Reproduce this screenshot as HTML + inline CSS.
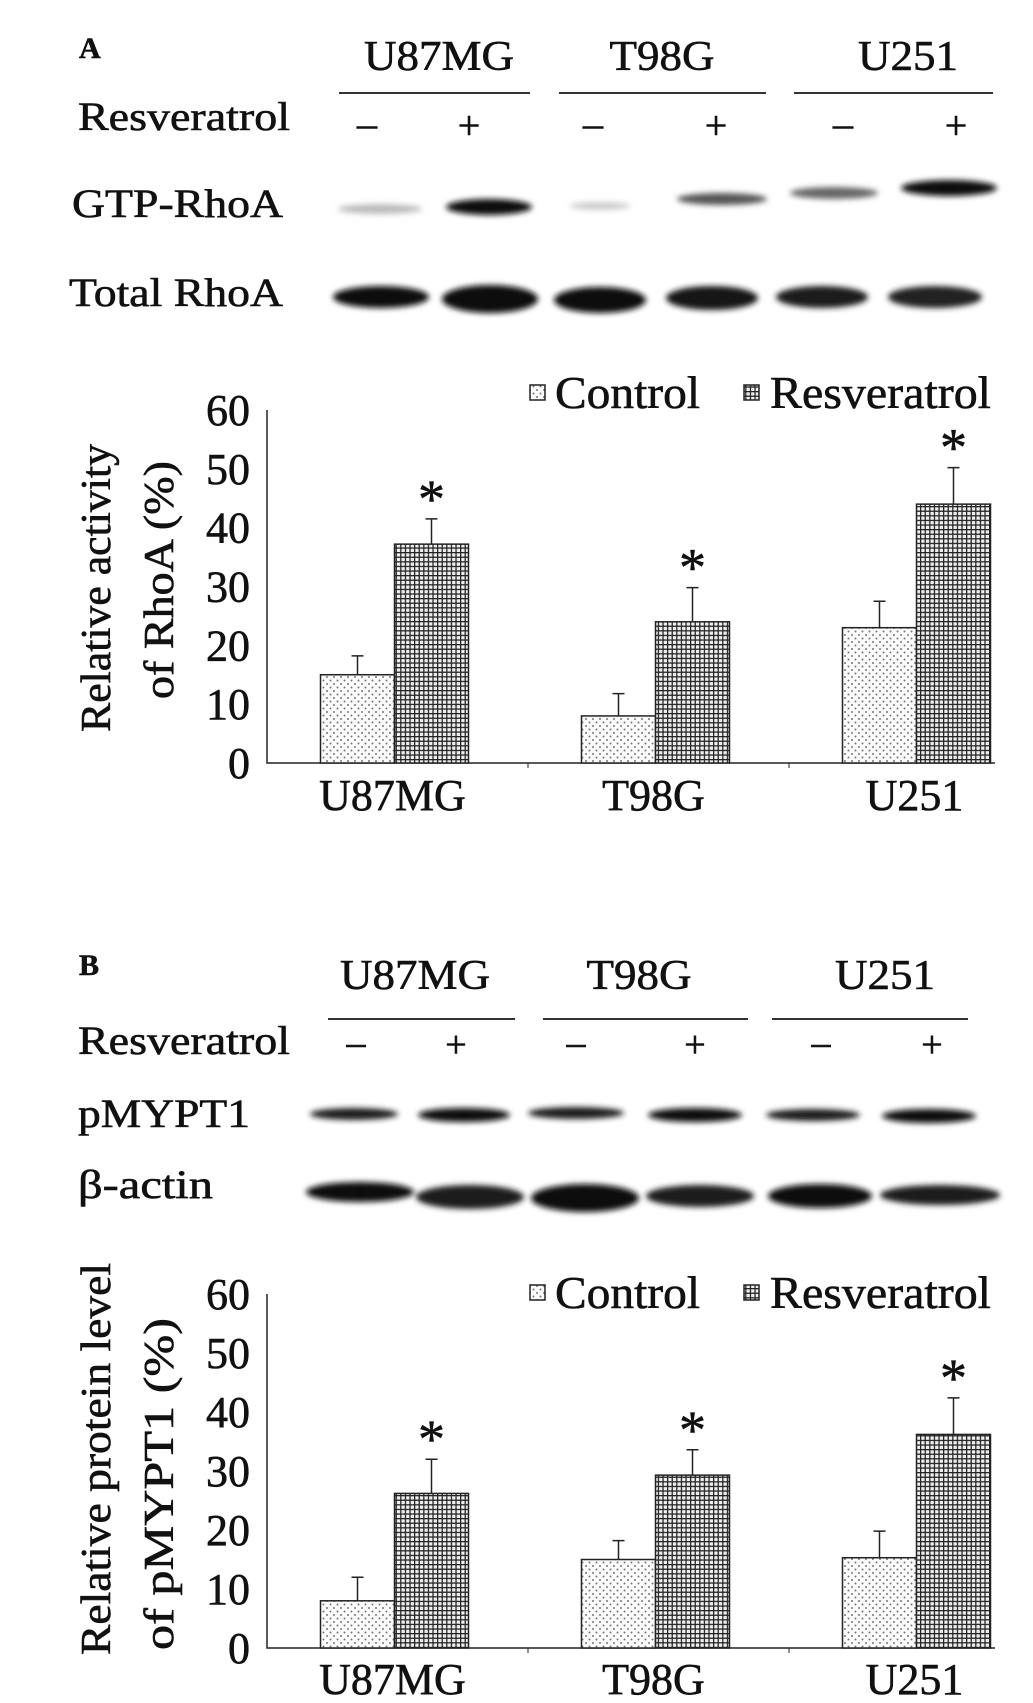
<!DOCTYPE html>
<html><head><meta charset="utf-8"><style>
html,body{margin:0;padding:0;background:#fff;}
svg{display:block;}
text{font-family:"Liberation Serif",serif;fill:#111;stroke:#111;stroke-width:0.6;}
</style></head><body>
<svg id="fig" width="1033" height="1703" viewBox="0 0 1033 1703">
<defs>
<pattern id="dots" width="7" height="7" patternUnits="userSpaceOnUse">
<rect width="7" height="7" fill="#fbfbfb"/>
<circle cx="1.5" cy="1.5" r="1" fill="#777"/><circle cx="5" cy="5" r="1" fill="#777"/>
</pattern>
<pattern id="grid" width="4.6" height="4.6" patternUnits="userSpaceOnUse">
<rect width="4.6" height="4.6" fill="#eee"/>
<path d="M0 0.6H4.6M0.6 0V4.6" stroke="#222" stroke-width="1.3"/>
</pattern>
<filter id="blur" x="-20%" y="-100%" width="140%" height="300%"><feGaussianBlur stdDeviation="3"/></filter>
</defs>

<text x="79" y="58" font-size="30" font-weight="bold">A</text>
<text x="439" y="70" font-size="42" text-anchor="middle" textLength="150" lengthAdjust="spacingAndGlyphs">U87MG</text>
<text x="662" y="70" font-size="42" text-anchor="middle" textLength="105" lengthAdjust="spacingAndGlyphs">T98G</text>
<text x="908" y="70" font-size="42" text-anchor="middle" textLength="100" lengthAdjust="spacingAndGlyphs">U251</text>
<g stroke="#333" stroke-width="2">
<line x1="339" y1="93" x2="530" y2="93"/><line x1="559" y1="93" x2="766" y2="93"/><line x1="794" y1="93" x2="993" y2="93"/></g>
<text x="78" y="130" font-size="40" textLength="212" lengthAdjust="spacingAndGlyphs">Resveratrol</text>
<g font-size="40" text-anchor="middle">
<text x="367" y="137">–</text><text x="469" y="139">+</text><text x="593" y="137">–</text><text x="716" y="139">+</text><text x="843" y="137">–</text><text x="956" y="139">+</text></g>
<text x="72" y="217" font-size="40" textLength="211" lengthAdjust="spacingAndGlyphs">GTP-RhoA</text>
<text x="69" y="306" font-size="40" textLength="214" lengthAdjust="spacingAndGlyphs">Total RhoA</text>
<g filter="url(#blur)">
<ellipse cx="380" cy="209" rx="42" ry="5" fill="#bbb"/>
<ellipse cx="489" cy="207" rx="43" ry="8" fill="#111"/>
<ellipse cx="600" cy="206" rx="30" ry="4" fill="#ccc"/>
<ellipse cx="722" cy="199" rx="45" ry="6" fill="#555"/>
<ellipse cx="834" cy="193" rx="44" ry="6" fill="#666"/>
<ellipse cx="949" cy="188" rx="48" ry="8" fill="#111"/>
</g>
<g filter="url(#blur)">
<ellipse cx="381" cy="297" rx="48" ry="11" fill="#111"/>
<ellipse cx="490" cy="299" rx="48" ry="14" fill="#0a0a0a"/>
<ellipse cx="600" cy="300" rx="46" ry="13" fill="#111"/>
<ellipse cx="712" cy="298" rx="46" ry="12" fill="#151515"/>
<ellipse cx="822" cy="297" rx="46" ry="11" fill="#1a1a1a"/>
<ellipse cx="935" cy="297" rx="47" ry="11" fill="#222"/>
</g>

<text x="79" y="975" font-size="30" font-weight="bold">B</text>
<text x="415" y="989" font-size="42" text-anchor="middle" textLength="150" lengthAdjust="spacingAndGlyphs">U87MG</text>
<text x="639" y="989" font-size="42" text-anchor="middle" textLength="105" lengthAdjust="spacingAndGlyphs">T98G</text>
<text x="885" y="989" font-size="42" text-anchor="middle" textLength="100" lengthAdjust="spacingAndGlyphs">U251</text>
<g stroke="#333" stroke-width="2">
<line x1="328" y1="1019" x2="515" y2="1019"/><line x1="543" y1="1019" x2="748" y2="1019"/><line x1="772" y1="1019" x2="968" y2="1019"/></g>
<text x="78" y="1054" font-size="40" textLength="212" lengthAdjust="spacingAndGlyphs">Resveratrol</text>
<g font-size="38" text-anchor="middle">
<text x="356" y="1055">–</text><text x="456" y="1057">+</text><text x="576" y="1055">–</text><text x="695" y="1057">+</text><text x="821" y="1055">–</text><text x="932" y="1057">+</text></g>
<text x="78" y="1127" font-size="40" textLength="172" lengthAdjust="spacingAndGlyphs">pMYPT1</text>
<text x="78" y="1198" font-size="40" textLength="135" lengthAdjust="spacingAndGlyphs">β-actin</text>
<g filter="url(#blur)">
<ellipse cx="354" cy="1114" rx="44" ry="6" fill="#1a1a1a"/>
<ellipse cx="464" cy="1115" rx="46" ry="7" fill="#111"/>
<ellipse cx="576" cy="1113" rx="48" ry="6" fill="#1a1a1a"/>
<ellipse cx="695" cy="1115" rx="47" ry="7" fill="#111"/>
<ellipse cx="813" cy="1115" rx="47" ry="6" fill="#1a1a1a"/>
<ellipse cx="929" cy="1116" rx="47" ry="7" fill="#111"/>
</g>
<g filter="url(#blur)">
<ellipse cx="360" cy="1192" rx="54" ry="10" fill="#111"/>
<ellipse cx="470" cy="1197" rx="54" ry="12" fill="#1a1a1a"/>
<ellipse cx="585" cy="1198" rx="54" ry="14" fill="#0a0a0a"/>
<ellipse cx="700" cy="1196" rx="54" ry="11" fill="#1a1a1a"/>
<ellipse cx="820" cy="1196" rx="52" ry="12" fill="#111"/>
<ellipse cx="940" cy="1195" rx="60" ry="10" fill="#1a1a1a"/>
</g>
<g id="chartA"></g>
<g id="chartB"></g>
</svg>
<script>
const categories = ["U87MG","T98G","U251"];
const yTicks = [0,10,20,30,40,50,60];
const aControl = [15,8,23];
const aControlErr = [3.2,3.8,4.5];
const aResv = [37.2,24,44];
const aResvErr = [4.3,5.8,6.2];
const bControl = [8,15,15.3];
const bControlErr = [4,3.2,4.5];
const bResv = [26.2,29.3,36.2];
const bResvErr = [5.8,4.3,6.2];

const NS="http://www.w3.org/2000/svg";
function mk(parent,tag,attrs,txt){const e=document.createElementNS(NS,tag);for(const k in attrs)e.setAttribute(k,attrs[k]);if(txt!=null)e.textContent=txt;parent.appendChild(e);return e;}

function drawChart(g,y0px,y60px,ctl,ctlErr,res,resErr,title1,title2,t1len,t2len,t1c,t2c,legendY,labelY,prefix){
  const x0=267,x1=995;
  const yS=v=>y0px-(v/60)*(y0px-y60px);
  const gw=261;
  const bw=74;
  const ax=mk(g,'path',{d:`M${x0} ${y60px}V${y0px}H${x1}`,stroke:'#222','stroke-width':1.5,fill:'none'});
  
  
  yTicks.forEach(t=>{
    const tx=mk(g,'text',{x:250,y:yS(t)+15,'font-size':44,'text-anchor':'end'},String(t));
    
    
  });
  for(let i=1;i<categories.length;i++){
    const tk=mk(g,'line',{x1:x0+gw*i,x2:x0+gw*i,y1:y0px,y2:y0px+5,stroke:'#222','stroke-width':1});
    
    
  }
  categories.forEach((c,i)=>{
    const cx=x0+gw*(i+0.5)-3;
    const lab=mk(g,'text',{x:cx-2,y:labelY,'font-size':44,'text-anchor':'middle'},c);
    
    
    [[ctl,ctlErr,'url(#dots)',-1,'control'],[res,resErr,'url(#grid)',0,'resveratrol']].forEach(([vals,errs,fill,off,nm])=>{
      const bx=cx+off*bw;
      const r=mk(g,'rect',{x:bx,y:yS(vals[i]),width:bw,height:y0px-yS(vals[i]),fill:fill,stroke:'#222','stroke-width':1.5});
      
      
      const top=yS(vals[i]+errs[i]);
      const e=mk(g,'path',{d:`M${bx+bw/2} ${yS(vals[i])}V${top}M${bx+bw/2-6} ${top}H${bx+bw/2+6}`,stroke:'#222','stroke-width':1.5,fill:'none'});
      
      
      if(nm==='resveratrol'){
        const s=mk(g,'text',{x:bx+bw/2,y:top-2,'font-size':54,'text-anchor':'middle'},'*');
        
        
      }
    });
  });
  const t1=mk(g,'text',{x:0,y:0,'font-size':42,'text-anchor':'middle',textLength:t1len,lengthAdjust:'spacingAndGlyphs',transform:`translate(110 ${t1c}) rotate(-90)`},title1);
  
  
  const t2=mk(g,'text',{x:0,y:0,'font-size':42,'text-anchor':'middle',textLength:t2len,lengthAdjust:'spacingAndGlyphs',transform:`translate(173 ${t2c}) rotate(-90)`,'xml:space':'preserve'},title2);
  
  
  const l1=mk(g,'rect',{x:530,y:legendY-8,width:15,height:15,fill:'url(#dots)',stroke:'#222','stroke-width':1.5});
  
  
  const lt1=mk(g,'text',{x:555,y:legendY+15,'font-size':46,textLength:145,lengthAdjust:'spacingAndGlyphs'},'Control');
  
  
  const l2=mk(g,'rect',{x:744,y:legendY-8,width:15,height:15,fill:'url(#grid)',stroke:'#222','stroke-width':1.5});
  
  
  const lt2=mk(g,'text',{x:770,y:legendY+15,'font-size':46,textLength:221,lengthAdjust:'spacingAndGlyphs'},'Resveratrol');
  
  
}
drawChart(document.getElementById('chartA'),763,410,aControl,aControlErr,aResv,aResvErr,'Relative activity','of RhoA (%)',288,238,588,580,393,810,'a');
drawChart(document.getElementById('chartB'),1648,1294,bControl,bControlErr,bResv,bResvErr,'Relative protein level','of  pMYPT1 (%)',392,332,1459,1484,1293,1694,'b');
</script>
</body></html>
